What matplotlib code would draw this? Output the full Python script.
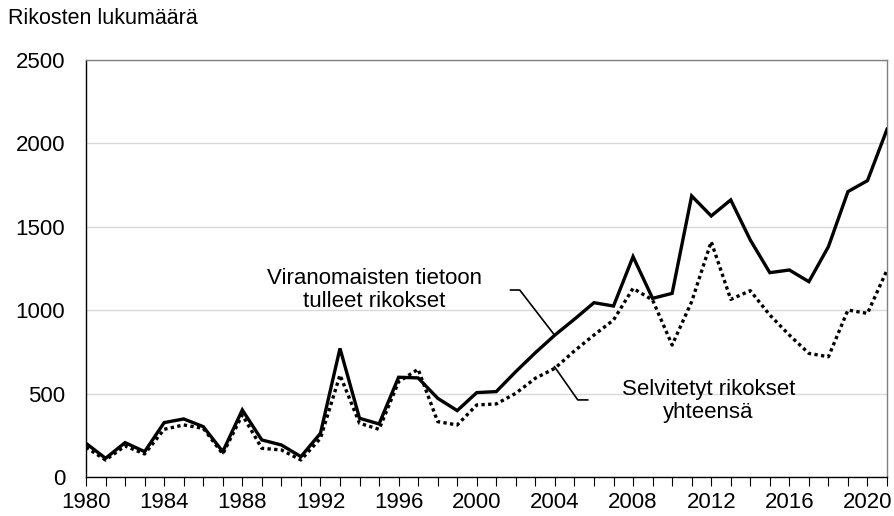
import matplotlib.pyplot as plt
from matplotlib.ticker import MultipleLocator

plt.rcParams['font.family'] = ['Liberation Sans', 'DejaVu Sans']

years = list(range(1980, 2022))

# crimes reported to the authorities
reported = [202, 112, 206, 152, 326, 348, 302, 152, 402, 222,
            192, 122, 262, 771, 352, 318, 598, 594, 472, 398,
            506, 512, 632, 745, 851, 946, 1045, 1025, 1321, 1071,
            1101, 1685, 1565, 1661, 1421, 1225, 1241, 1171, 1381, 1711,
            1777, 2085]

# crimes solved in total
solved = [178, 102, 186, 138, 286, 312, 292, 138, 372, 172,
          162, 102, 232, 611, 322, 286, 571, 646, 332, 312,
          432, 438, 502, 592, 652, 756, 851, 941, 1131, 1061,
          791, 1051, 1411, 1065, 1117, 971, 851, 741, 721, 1001,
          981, 1241]

fig = plt.figure(figsize=(8.95, 5.16), dpi=100)
ax = fig.add_axes([0.0961, 0.0756, 0.8950, 0.8081])

ax.plot(years, reported, color='black', lw=2.4, solid_joinstyle='miter', zorder=3)
ax.plot(years, solved, color='black', lw=2.4, linestyle=(0, (1, 1)), dash_capstyle='butt', zorder=3)

ax.set_xlim(1980, 2021)
ax.set_ylim(0, 2500)
ax.yaxis.set_major_locator(MultipleLocator(500))
ax.xaxis.set_major_locator(MultipleLocator(4))
ax.xaxis.set_minor_locator(MultipleLocator(1))
ax.grid(axis='y', color='#d9d9d9', lw=1)
ax.set_axisbelow(True)

for side in ['top', 'right']:
    ax.spines[side].set_color('#808080')
    ax.spines[side].set_linewidth(1)
for side in ['left', 'bottom']:
    ax.spines[side].set_color('black')
    ax.spines[side].set_linewidth(1)

ax.tick_params(axis='y', length=0, pad=15, labelsize=16)
ax.tick_params(axis='x', which='both', length=6.5, width=0.8, direction='out', pad=4, labelsize=16)

fig.text(8 / 895, 1 - 18 / 516, 'Rikosten lukumäärä', fontsize=15.5, va='center', ha='left')

ax.text(1994.75, 1121, 'Viranomaisten tietoon\ntulleet rikokset', fontsize=16,
        ha='center', va='center', linespacing=1.1)
ax.text(2011.85, 456, 'Selvitetyt rikokset\nyhteensä', fontsize=16,
        ha='center', va='center', linespacing=1.1)

# leader lines from the labels to the series
ax.plot([2001.73, 2002.2, 2003.98], [1121, 1121, 851], color='black', lw=1.2, zorder=2)
ax.plot([2003.98, 2005.17, 2005.68], [661, 462, 462], color='black', lw=1.2, zorder=2)

fig.savefig('out.png', dpi=100)
